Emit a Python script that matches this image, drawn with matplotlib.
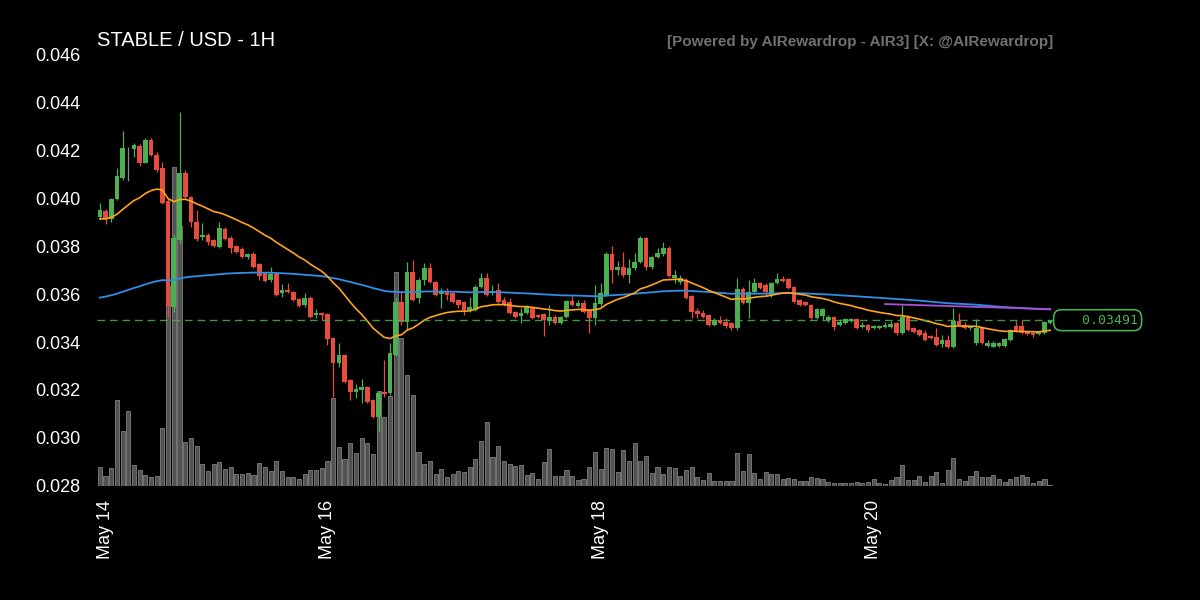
import matplotlib
matplotlib.use('Agg')
import matplotlib.pyplot as plt
import matplotlib.transforms as mtransforms
import numpy as np
import pandas as pd

# hourly candles, May 14 08:00 -> May 21 07:00
opens = [0.03922, 0.03946, 0.03913, 0.03996, 0.04083, 0.04204, 0.04204, 0.04217, 0.04146, 0.04242, 0.04179, 0.04125,
         0.03988, 0.03546, 0.03825, 0.04104, 0.04004, 0.03900, 0.03838, 0.03846, 0.03825, 0.03796, 0.03871, 0.03833,
         0.03800, 0.03788, 0.03754, 0.03767, 0.03725, 0.03688, 0.03658, 0.03683, 0.03604, 0.03617, 0.03608, 0.03579,
         0.03554, 0.03583, 0.03513, 0.03521, 0.03517, 0.03417, 0.03313, 0.03346, 0.03242, 0.03192, 0.03200, 0.03213,
         0.03158, 0.03088, 0.03192, 0.03188, 0.03346, 0.03567, 0.03483, 0.03692, 0.03583, 0.03658, 0.03708, 0.03650,
         0.03600, 0.03608, 0.03604, 0.03575, 0.03567, 0.03533, 0.03533, 0.03629, 0.03667, 0.03604, 0.03617, 0.03575,
         0.03567, 0.03525, 0.03508, 0.03521, 0.03546, 0.03513, 0.03517, 0.03488, 0.03504, 0.03479, 0.03504, 0.03571,
         0.03550, 0.03563, 0.03533, 0.03500, 0.03558, 0.03596, 0.03767, 0.03700, 0.03713, 0.03679, 0.03708, 0.03733,
         0.03833, 0.03713, 0.03754, 0.03767, 0.03792, 0.03667, 0.03650, 0.03658, 0.03592, 0.03529, 0.03521, 0.03513,
         0.03471, 0.03492, 0.03483, 0.03479, 0.03458, 0.03621, 0.03563, 0.03608, 0.03646, 0.03638, 0.03596, 0.03646,
         0.03663, 0.03663, 0.03629, 0.03575, 0.03567, 0.03554, 0.03500, 0.03508, 0.03492, 0.03504, 0.03471, 0.03479,
         0.03488, 0.03496, 0.03463, 0.03471, 0.03458, 0.03458, 0.03463, 0.03463, 0.03479, 0.03438, 0.03504, 0.03458,
         0.03450, 0.03438, 0.03425, 0.03421, 0.03392, 0.03408, 0.03380, 0.03488, 0.03471, 0.03458, 0.03396, 0.03458,
         0.03383, 0.03380, 0.03383, 0.03383, 0.03408, 0.03467, 0.03467, 0.03442, 0.03438, 0.03433, 0.03438, 0.03479]
highs = [0.03979, 0.03955, 0.04000, 0.04125, 0.04279, 0.04213, 0.04229, 0.04225, 0.04250, 0.04250, 0.04192, 0.04150,
         0.04000, 0.03850, 0.04358, 0.04117, 0.04010, 0.03950, 0.03896, 0.03855, 0.03830, 0.03900, 0.03880, 0.03840,
         0.03805, 0.03795, 0.03771, 0.03775, 0.03730, 0.03692, 0.03713, 0.03690, 0.03642, 0.03646, 0.03612, 0.03583,
         0.03604, 0.03590, 0.03538, 0.03525, 0.03520, 0.03420, 0.03396, 0.03350, 0.03245, 0.03225, 0.03246, 0.03216,
         0.03162, 0.03195, 0.03325, 0.03396, 0.03588, 0.03608, 0.03733, 0.03742, 0.03665, 0.03729, 0.03729, 0.03655,
         0.03625, 0.03625, 0.03610, 0.03580, 0.03572, 0.03588, 0.03638, 0.03688, 0.03688, 0.03638, 0.03646, 0.03588,
         0.03583, 0.03530, 0.03542, 0.03555, 0.03550, 0.03517, 0.03520, 0.03554, 0.03513, 0.03510, 0.03575, 0.03592,
         0.03575, 0.03575, 0.03538, 0.03638, 0.03646, 0.03775, 0.03800, 0.03738, 0.03775, 0.03746, 0.03771, 0.03840,
         0.03838, 0.03760, 0.03792, 0.03817, 0.03800, 0.03700, 0.03679, 0.03665, 0.03596, 0.03542, 0.03533, 0.03517,
         0.03500, 0.03508, 0.03500, 0.03483, 0.03667, 0.03630, 0.03658, 0.03667, 0.03650, 0.03646, 0.03650, 0.03688,
         0.03675, 0.03667, 0.03633, 0.03580, 0.03570, 0.03558, 0.03540, 0.03542, 0.03513, 0.03508, 0.03496, 0.03500,
         0.03500, 0.03500, 0.03483, 0.03475, 0.03470, 0.03470, 0.03483, 0.03488, 0.03483, 0.03554, 0.03513, 0.03462,
         0.03454, 0.03450, 0.03430, 0.03458, 0.03429, 0.03429, 0.03542, 0.03521, 0.03483, 0.03465, 0.03496, 0.03462,
         0.03408, 0.03404, 0.03400, 0.03415, 0.03455, 0.03488, 0.03492, 0.03446, 0.03442, 0.03446, 0.03488, 0.03492]
lows = [0.03913, 0.03892, 0.03900, 0.03990, 0.04075, 0.04071, 0.04171, 0.04133, 0.04146, 0.04175, 0.04108, 0.03975,
        0.03504, 0.03525, 0.03810, 0.03996, 0.03880, 0.03820, 0.03825, 0.03804, 0.03796, 0.03792, 0.03825, 0.03771,
        0.03771, 0.03750, 0.03746, 0.03708, 0.03658, 0.03650, 0.03650, 0.03590, 0.03588, 0.03604, 0.03570, 0.03546,
        0.03546, 0.03500, 0.03500, 0.03492, 0.03388, 0.03171, 0.03296, 0.03229, 0.03158, 0.03167, 0.03146, 0.03146,
        0.03083, 0.03025, 0.03171, 0.03180, 0.03340, 0.03470, 0.03450, 0.03570, 0.03563, 0.03638, 0.03646, 0.03592,
        0.03542, 0.03575, 0.03563, 0.03542, 0.03513, 0.03525, 0.03530, 0.03625, 0.03590, 0.03596, 0.03563, 0.03550,
        0.03517, 0.03500, 0.03479, 0.03515, 0.03495, 0.03500, 0.03425, 0.03471, 0.03475, 0.03475, 0.03500, 0.03550,
        0.03545, 0.03520, 0.03438, 0.03471, 0.03550, 0.03590, 0.03646, 0.03679, 0.03670, 0.03646, 0.03700, 0.03730,
        0.03700, 0.03705, 0.03750, 0.03760, 0.03670, 0.03646, 0.03642, 0.03580, 0.03500, 0.03500, 0.03500, 0.03465,
        0.03465, 0.03475, 0.03458, 0.03450, 0.03450, 0.03560, 0.03500, 0.03600, 0.03620, 0.03596, 0.03588, 0.03640,
        0.03650, 0.03620, 0.03563, 0.03550, 0.03550, 0.03495, 0.03495, 0.03492, 0.03483, 0.03450, 0.03465, 0.03475,
        0.03485, 0.03455, 0.03460, 0.03442, 0.03455, 0.03455, 0.03460, 0.03460, 0.03429, 0.03435, 0.03445, 0.03438,
        0.03425, 0.03404, 0.03413, 0.03385, 0.03380, 0.03375, 0.03375, 0.03470, 0.03455, 0.03450, 0.03388, 0.03392,
        0.03380, 0.03378, 0.03380, 0.03380, 0.03405, 0.03442, 0.03435, 0.03430, 0.03421, 0.03430, 0.03435, 0.03475]
closes = [0.03950, 0.03913, 0.03996, 0.04092, 0.04208, 0.04204, 0.04221, 0.04146, 0.04242, 0.04179, 0.04117, 0.03979,
          0.03550, 0.03833, 0.04104, 0.04004, 0.03900, 0.03829, 0.03846, 0.03817, 0.03800, 0.03875, 0.03829, 0.03792,
          0.03775, 0.03754, 0.03767, 0.03713, 0.03675, 0.03654, 0.03683, 0.03596, 0.03617, 0.03608, 0.03575, 0.03550,
          0.03583, 0.03504, 0.03521, 0.03513, 0.03413, 0.03313, 0.03346, 0.03233, 0.03192, 0.03204, 0.03213, 0.03150,
          0.03088, 0.03188, 0.03183, 0.03354, 0.03567, 0.03483, 0.03692, 0.03575, 0.03658, 0.03708, 0.03650, 0.03596,
          0.03608, 0.03596, 0.03567, 0.03554, 0.03533, 0.03546, 0.03629, 0.03667, 0.03596, 0.03613, 0.03567, 0.03554,
          0.03521, 0.03504, 0.03521, 0.03550, 0.03500, 0.03504, 0.03492, 0.03504, 0.03479, 0.03504, 0.03571, 0.03554,
          0.03563, 0.03525, 0.03500, 0.03563, 0.03604, 0.03767, 0.03700, 0.03713, 0.03679, 0.03708, 0.03733, 0.03833,
          0.03713, 0.03754, 0.03771, 0.03792, 0.03675, 0.03679, 0.03667, 0.03583, 0.03525, 0.03517, 0.03504, 0.03471,
          0.03492, 0.03479, 0.03467, 0.03458, 0.03621, 0.03563, 0.03608, 0.03646, 0.03625, 0.03608, 0.03646, 0.03663,
          0.03654, 0.03625, 0.03567, 0.03554, 0.03554, 0.03500, 0.03538, 0.03538, 0.03504, 0.03463, 0.03483, 0.03496,
          0.03496, 0.03458, 0.03471, 0.03450, 0.03467, 0.03467, 0.03471, 0.03475, 0.03438, 0.03504, 0.03450, 0.03442,
          0.03429, 0.03408, 0.03417, 0.03388, 0.03408, 0.03380, 0.03488, 0.03471, 0.03458, 0.03463, 0.03458, 0.03396,
          0.03396, 0.03396, 0.03396, 0.03413, 0.03450, 0.03446, 0.03438, 0.03433, 0.03429, 0.03442, 0.03483, 0.03491]
volumes = [19, 10, 18, 86, 55, 75, 21, 16, 11, 9, 10, 58,
           200, 319, 260, 44, 48, 40, 22, 15, 22, 24, 17, 19,
           12, 12, 13, 11, 23, 19, 15, 25, 15, 9, 9, 7,
           12, 16, 16, 18, 25, 88, 39, 27, 43, 33, 48, 43,
           32, 95, 69, 90, 214, 148, 111, 91, 34, 22, 25, 12,
           17, 9, 12, 15, 14, 19, 27, 45, 64, 29, 40, 25,
           22, 20, 21, 11, 13, 7, 24, 37, 10, 10, 16, 10,
           6, 7, 19, 34, 17, 38, 37, 14, 36, 25, 43, 25,
           30, 13, 19, 12, 19, 18, 10, 16, 19, 9, 6, 13,
           5, 5, 5, 5, 33, 15, 32, 13, 7, 14, 12, 12,
           7, 8, 7, 5, 5, 9, 8, 7, 4, 3, 3, 3,
           3, 4, 3, 4, 7, 3, 2, 6, 9, 21, 6, 6,
           10, 4, 10, 14, 3, 16, 28, 7, 5, 10, 15, 9,
           9, 11, 7, 4, 7, 9, 11, 9, 3, 5, 7, 1]

# indicator values just before the first candle
fast_seed = 0.0391
slow_seed = 0.0358

# resistance line over the last day
trend_idx = [138, 167]
trend_val = [0.03558, 0.03537]

tick_idx = [1, 40, 88, 136]
tick_labels = ['May 14', 'May 16', 'May 18', 'May 20']

GREEN = '#4caf50'
RED = '#e74c3c'

plt.rcParams['font.family'] = ['Liberation Sans', 'DejaVu Sans']

o = np.array(opens)
h = np.array(highs)
l = np.array(lows)
c = np.array(closes)
x = np.arange(len(c))
cols = [GREEN if cc > oo else (RED if cc < oo else '#8a8a8a') for oo, cc in zip(o, c)]

fast = pd.Series([fast_seed] + closes).ewm(span=26, adjust=False).mean().iloc[1:].values
slow = pd.Series([slow_seed] + closes).ewm(span=150, adjust=False).mean().iloc[1:].values

fig = plt.figure(figsize=(12, 6), dpi=100, facecolor='black')
rect = [97 / 1200, 114 / 600, 956 / 1200, 432 / 600]

# volume underneath
axv = fig.add_axes(rect)
axv.set_facecolor('black')
axv.bar(x, volumes, width=0.72, color='#525252', edgecolor='#747474', linewidth=0.7)
axv.set_xlim(-0.5, len(c) - 0.5)
axv.set_ylim(0, 432)
axv.axis('off')

ax = fig.add_axes(rect)
ax.patch.set_visible(False)
ax.vlines(x, l, h, colors=cols, linewidth=0.9, zorder=2)
body = np.maximum(np.abs(c - o), 0.000015)
ax.bar(x, body, bottom=np.minimum(o, c), width=0.82, color=cols, zorder=3)

ax.plot(x, slow, color='#2e8ee8', linewidth=1.3, zorder=4)
ax.plot(x, fast, color='#ffa31a', linewidth=1.2, zorder=4)
ax.plot(trend_idx, trend_val, color='#a84fd8', linewidth=1.3, zorder=4)
ax.axhline(closes[-1], color=GREEN, linewidth=1.0, linestyle=(0, (5.5, 3.5)), alpha=0.85, zorder=4)

ax.set_xlim(-0.5, len(c) - 0.5)
ax.set_ylim(0.028, 0.046)
yt = np.arange(0.028, 0.0461, 0.002)
ax.set_yticks(yt, [f'{v:.3f}' for v in yt])
ax.set_xticks(tick_idx, tick_labels, rotation=90)
ax.tick_params(axis='y', length=0, pad=12, labelcolor='white', labelsize=13)
ax.tick_params(axis='x', length=0, pad=10, labelcolor='white', labelsize=13)
for s in ax.spines.values():
    s.set_visible(False)

ax.text(0.0, 1.0185, 'STABLE / USD - 1H', transform=ax.transAxes, ha='left', va='baseline',
        color='white', fontsize=14.5)
ax.text(1.0, 1.0185, '[Powered by AIRewardrop - AIR3] [X: @AIRewardrop]', transform=ax.transAxes,
        ha='right', va='baseline', color='#707070', fontsize=11, fontweight='bold')

trans = mtransforms.blended_transform_factory(ax.transAxes, ax.transData)
ax.text(1.0885, closes[-1], f'{closes[-1]:>10.5f}', transform=trans, ha='right', va='center',
        family='DejaVu Sans Mono', fontsize=9.5, color=GREEN,
        bbox=dict(boxstyle='round,pad=0.3,rounding_size=0.6', fc='black', ec=GREEN, lw=1.2))

fig.savefig('out.png', dpi=100, facecolor='black')
